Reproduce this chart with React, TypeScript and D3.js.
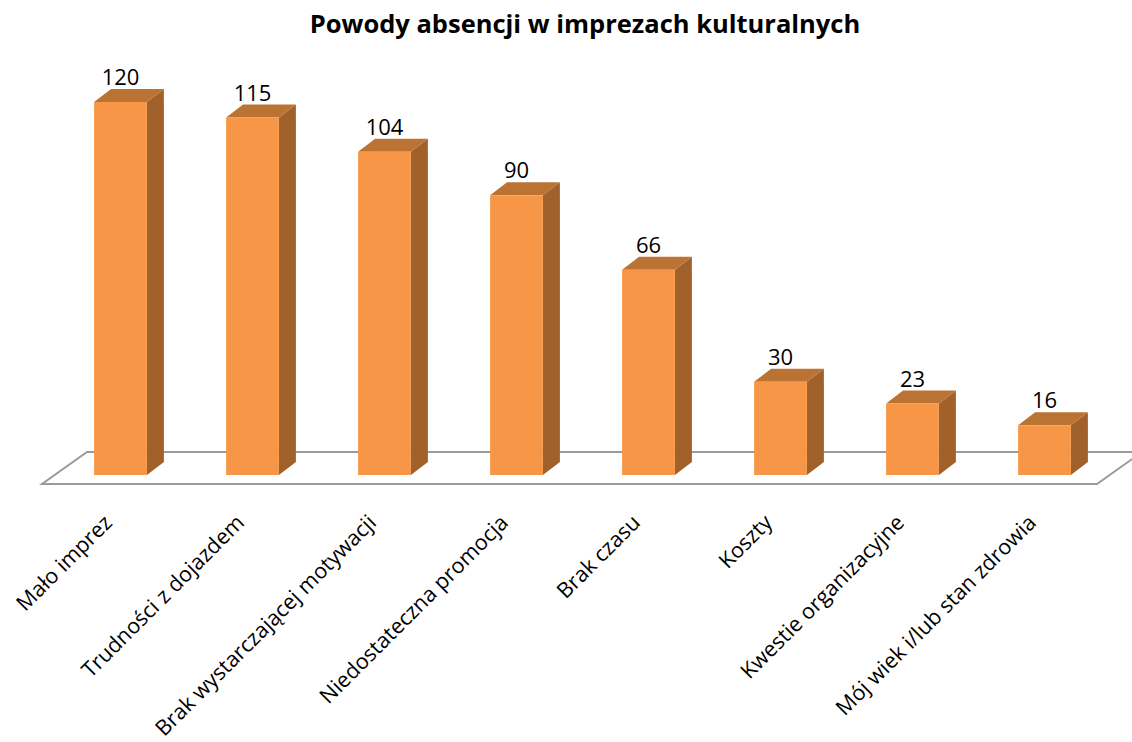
import {useEffect, useRef} from "react";
import * as d3 from "d3";

const title = "Powody absencji w imprezach kulturalnych";

const categories = [
	"Mało imprez",
	"Trudności z dojazdem",
	"Brak wystarczającej motywacji",
	"Niedostateczna promocja",
	"Brak czasu",
	"Koszty",
	"Kwestie organizacyjne",
	"Mój wiek i/lub stan zdrowia",
];

const values = [120, 115, 104, 90, 66, 30, 23, 16];

const App = () => {
	const svgRef = useRef<SVGSVGElement>(null);

	useEffect(() => {
		document.body.style.margin = "0";
		const width = 1132;
		const height = 742;
		const font = "'Open Sans', sans-serif";

		// depth of the 3d effect
		const dx = 17;
		const dy = 13;
		const base = 475;

		const x = d3
			.scaleBand<string>()
			.domain(categories)
			.range([54.5, 1110.5])
			.paddingInner(0.6)
			.paddingOuter(0.3);

		const y = d3.scaleLinear().domain([0, 120]).range([base, 102]);

		const svg = d3
			.select(svgRef.current)
			.attr("width", width)
			.attr("height", height)
			.attr("viewBox", [0, 0, width, height].join(" "));

		svg.selectAll("*").remove();

		svg.append("rect").attr("width", width).attr("height", height).attr("fill", "#fff");

		// title
		svg.append("text")
			.attr("x", 585)
			.attr("y", 33)
			.attr("text-anchor", "middle")
			.attr("font-family", font)
			.attr("font-weight", "bold")
			.attr("font-size", 25.5)
			.attr("fill", "#000")
			.text(title);

		// floor
		const floorFront = 484;
		const floorBack = 452;
		const slant = 45;
		svg.append("path")
			.attr("d", `M42,${floorFront} L1097,${floorFront} L${1097 + slant},${floorBack} L${42 + slant},${floorBack} Z`)
			.attr("fill", "none")
			.attr("stroke", "#9a9a9a")
			.attr("stroke-width", 2);

		const bars = svg
			.selectAll("g.bar")
			.data(categories)
			.enter()
			.append("g")
			.attr("class", "bar");

		const bw = x.bandwidth();

		// side face
		bars.append("path")
			.attr("d", (d, i) => {
				const x1 = x(d)! + bw;
				const top = y(values[i]);
				return `M${x1},${top} L${x1 + dx},${top - dy} L${x1 + dx},${base - dy} L${x1},${base} Z`;
			})
			.attr("fill", "#A0612B");

		// top face
		bars.append("path")
			.attr("d", (d, i) => {
				const x0 = x(d)!;
				const top = y(values[i]);
				return `M${x0},${top} L${x0 + dx},${top - dy} L${x0 + bw + dx},${top - dy} L${x0 + bw},${top} Z`;
			})
			.attr("fill", "#BB7334");

		// front face
		bars.append("rect")
			.attr("x", (d) => x(d)!)
			.attr("y", (d, i) => y(values[i]))
			.attr("width", bw)
			.attr("height", (d, i) => base - y(values[i]))
			.attr("fill", "#F79646");

		// value labels
		bars.append("text")
			.attr("x", (d) => x(d)! + bw / 2)
			.attr("y", (d, i) => y(values[i]) - 17)
			.attr("text-anchor", "middle")
			.attr("font-family", font)
			.attr("font-size", 22)
			.attr("fill", "#000")
			.text((d, i) => values[i]);

		// category labels
		svg.selectAll("text.cat")
			.data(categories)
			.enter()
			.append("text")
			.attr("class", "cat")
			.attr("transform", (d) => `translate(${x(d)! + bw / 2 - 7},${524}) rotate(-45)`)
			.attr("text-anchor", "end")
			.attr("font-family", font)
			.attr("font-size", 21.5)
			.attr("fill", "#000")
			.text((d) => d);
	}, []);

	return (
		<div style={{width: 1132, height: 742}}>
			<svg ref={svgRef}></svg>
		</div>
	);
};

export default App;
